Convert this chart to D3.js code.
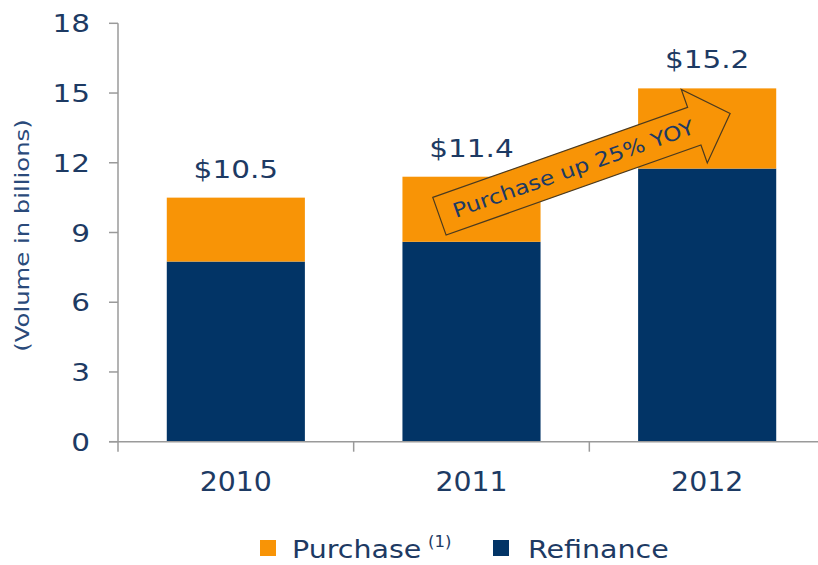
<!DOCTYPE html>
<html>
<head>
<meta charset="utf-8">
<script src="https://cdn.jsdelivr.net/npm/d3@7"></script>
<style>
  body { margin: 0; background: #fff; }
  text { font-family: "DejaVu Sans", Verdana, sans-serif; fill: #1d3a63; }
</style>
</head>
<body>
<div id="chart"></div>
<script>
// Mortgage volume by year, stacked
const years = ["2010", "2011", "2012"];
const refinance = [7.75, 8.6, 11.75];
const purchase = [2.75, 2.8, 3.45];
const totals = ["$10.5", "$11.4", "$15.2"];
const yTicks = [0, 3, 6, 9, 12, 15, 18];

((() => {
  let width = 818;
  let height = 565;
  let navy = "#023466";
  let orange = "#f89406";
  let stretch = 1.18; // text in the source is wider than it is tall

  let svg = d3.select("#chart")
    .append("svg")
    .attr("width", width)
    .attr("height", height);

  let x = d3.scaleBand()
    .domain(years)
    .range([118, 825])
    .paddingInner(0.414)
    .paddingOuter(0.207);

  let y = d3.scaleLinear()
    .domain([0, 18])
    .range([441.7, 23.3]);

  // bars
  let rows = years.map((yr, i) => ({ year: yr, refinance: refinance[i], purchase: purchase[i] }));
  let stack = d3.stack().keys(["refinance", "purchase"])(rows);
  let colors = { refinance: navy, purchase: orange };

  svg.append("g")
    .selectAll("g")
    .data(stack)
    .enter()
    .append("g")
    .attr("fill", d => colors[d.key])
    .selectAll("rect")
    .data(d => d)
    .enter()
    .append("rect")
    .attr("x", d => x(d.data.year))
    .attr("width", x.bandwidth())
    .attr("y", d => y(d[1]))
    .attr("height", d => y(d[0]) - y(d[1]));

  // axes
  let axisColor = "#9a9a9a";
  let yAxis = svg.append("g").attr("transform", "translate(118,0)");
  yAxis.append("line")
    .attr("x1", 0).attr("x2", 0)
    .attr("y1", y(18)).attr("y2", y(0) + 10)
    .attr("stroke", axisColor).attr("stroke-width", 1.5);
  yAxis.selectAll("line.tick")
    .data(yTicks)
    .enter()
    .append("line")
    .attr("class", "tick")
    .attr("x1", -9).attr("x2", 0)
    .attr("y1", d => y(d)).attr("y2", d => y(d))
    .attr("stroke", axisColor).attr("stroke-width", 1.5);
  yAxis.selectAll("text")
    .data(yTicks)
    .enter()
    .append("text")
    .attr("transform", d => `translate(-28,${y(d)}) scale(${stretch},1)`)
    .attr("text-anchor", "end")
    .attr("dy", "0.36em")
    .style("font-size", "25px")
    .text(d => d);

  // x axis
  svg.append("line")
    .attr("x1", 109).attr("x2", width)
    .attr("y1", y(0)).attr("y2", y(0))
    .attr("stroke", axisColor).attr("stroke-width", 1.5);
  let step = x.step();
  svg.selectAll("line.xtick")
    .data(years.slice(1))
    .enter()
    .append("line")
    .attr("class", "xtick")
    .attr("x1", d => x(d) - step * 0.207)
    .attr("x2", d => x(d) - step * 0.207)
    .attr("y1", y(0)).attr("y2", y(0) + 10)
    .attr("stroke", axisColor).attr("stroke-width", 1.5);
  svg.selectAll("text.xlabel")
    .data(years)
    .enter()
    .append("text")
    .attr("class", "xlabel")
    .attr("transform", d => `translate(${x(d) + x.bandwidth() / 2},491) scale(1.05,1)`)
    .attr("text-anchor", "middle")
    .style("font-size", "27px")
    .text(d => d);

  // y title
  svg.append("text")
    .attr("transform", `translate(29,${(y(0) + y(18)) / 2 + 3}) rotate(-90) scale(1.28,1)`)
    .attr("text-anchor", "middle")
    .style("font-size", "19px")
    .style("fill", "#2a4a7a")
    .text("(Volume in billions)");

  // totals above bars
  svg.selectAll("text.total")
    .data(years)
    .enter()
    .append("text")
    .attr("class", "total")
    .attr("transform", (d, i) => `translate(${x(d) + x.bandwidth() / 2},${y(refinance[i] + purchase[i]) - 20}) scale(${stretch},1)`)
    .attr("text-anchor", "middle")
    .style("font-size", "25px")
    .text((d, i) => totals[i]);

  // growth arrow from 2011 into 2012
  let tail = [x("2011") + 37, y(9.7)];
  let tip = [x("2012") + 92, y(14.12)];
  let dx = tip[0] - tail[0], dy = tip[1] - tail[1];
  let len = Math.sqrt(dx * dx + dy * dy);
  let ang = Math.atan2(dy, dx) * 180 / Math.PI;
  let headLen = 38, shaftHalf = 20, headHalf = 39;
  let arrowPts = [
    [0, -shaftHalf], [len - headLen, -shaftHalf], [len - headLen, -headHalf],
    [len, 0],
    [len - headLen, headHalf], [len - headLen, shaftHalf], [0, shaftHalf]
  ];
  let arrow = svg.append("g")
    .attr("transform", `translate(${tail[0]},${tail[1]}) rotate(${ang})`);
  arrow.append("path")
    .attr("d", d3.line()(arrowPts) + "Z")
    .attr("fill", orange)
    .attr("stroke", "#4a3a20")
    .attr("stroke-width", 1.2);
  arrow.append("text")
    .attr("transform", `translate(142,7) scale(1.17,1)`)
    .attr("text-anchor", "middle")
    .style("font-size", "20px")
    .text("Purchase up 25% YOY");

  // legend
  let legend = svg.append("g").attr("class", "legend");
  legend.append("rect").attr("x", 260).attr("y", 540).attr("width", 16).attr("height", 16).attr("fill", orange);
  legend.append("rect").attr("x", 493).attr("y", 540).attr("width", 16).attr("height", 16).attr("fill", navy);
  legend.append("text")
    .attr("transform", "translate(292,558) scale(1.14,1)")
    .style("font-size", "25px")
    .text("Purchase");
  legend.append("text")
    .attr("transform", "translate(428,547) scale(1.1,1)")
    .style("font-size", "15px")
    .text("(1)");
  legend.append("text")
    .attr("transform", "translate(528,558) scale(1.14,1)")
    .style("font-size", "25px")
    .text("Refinance");
})());
</script>
</body>
</html>
